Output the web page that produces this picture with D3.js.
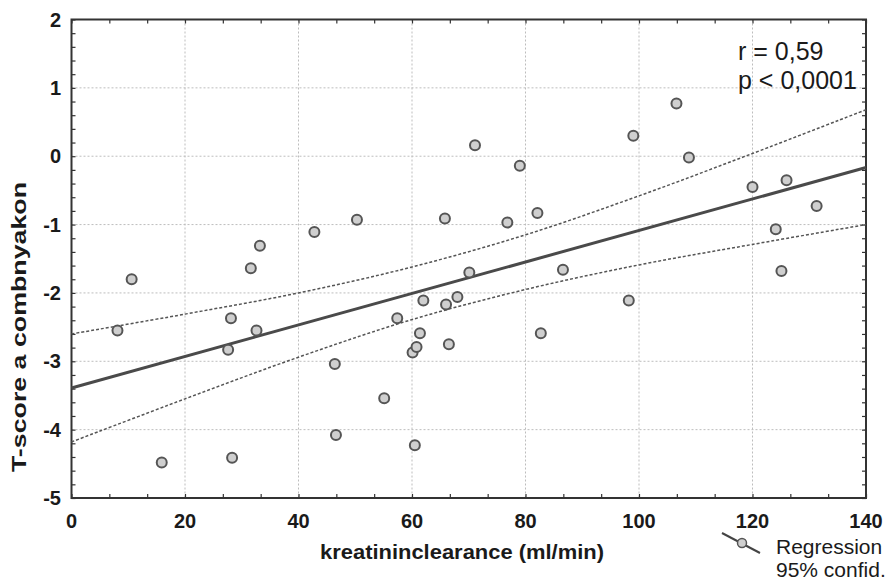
<html>
<head>
  <meta charset="UTF-8">
  <title>T-score vs kreatininclearance</title>
  <script src="https://d3js.org/d3.v7.min.js"></script>
  <style>
    body { margin: 0; background-color: white; }
    text { font-family: "Liberation Sans", Arial, sans-serif; fill: #1a1a1a; }
  </style>
</head>
<body>
  <svg></svg>
</body>
<script>
  const clearance = [8.1, 10.6, 15.9, 27.6, 28.1, 28.3, 31.6, 32.6, 33.2, 42.8,
    46.4, 46.6, 50.3, 55.1, 57.4, 60.1, 60.5, 60.8, 61.4, 62.0,
    65.8, 66.0, 66.5, 68.0, 70.1, 71.1, 76.8, 79.0, 82.1, 82.7,
    86.6, 98.2, 99.0, 106.6, 108.8, 120.0, 124.1, 125.1, 126.0, 131.3];
  const tscore = [-2.55, -1.80, -4.48, -2.83, -2.37, -4.41, -1.64, -2.55, -1.31, -1.11,
    -3.04, -4.08, -0.93, -3.54, -2.37, -2.87, -4.23, -2.79, -2.59, -2.11,
    -0.91, -2.17, -2.75, -2.06, -1.70, 0.16, -0.97, -0.14, -0.83, -2.59,
    -1.66, -2.11, 0.30, 0.77, -0.02, -0.45, -1.07, -1.68, -0.35, -0.73];

  // regression line ends and 95% band
  const fitX = [0, 140];
  const fitY = [-3.39, -0.165];
  const bandX = [0, 20, 40, 60, 80, 100, 120, 140];
  const bandUpper = [-2.60, -2.31, -2.00, -1.62, -1.15, -0.58, 0.04, 0.68];
  const bandLower = [-4.18, -3.55, -2.94, -2.39, -1.95, -1.59, -1.29, -1.00];

  const xTicks = [0, 20, 40, 60, 80, 100, 120, 140];
  const yTicks = [2, 1, 0, -1, -2, -3, -4, -5];
  const statLines = ["r = 0,59", "p < 0,0001"];
  const legendLines = ["Regression", "95% confid."];

  let width = 888, height = 581;
  let padL = 71.5, padR = 866, padT = 19.5, padB = 498;

  let svg = d3.select("svg")
    .attr("width", width)
    .attr("height", height)
    .attr("viewBox", "0 0 " + width + " " + height);

  let x = d3.scaleLinear().domain([0, 140]).range([padL, padR]);
  let y = d3.scaleLinear().domain([-5, 2]).range([padB, padT]);

  // grid
  let grid = svg.append("g").attr("stroke", "#bdbdbd").attr("stroke-width", 1)
    .attr("stroke-dasharray", "2,2");
  grid.selectAll(".gx").data(xTicks.slice(1, -1)).enter().append("line")
    .attr("x1", d => x(d)).attr("x2", d => x(d))
    .attr("y1", padT).attr("y2", padB);
  grid.selectAll(".gy").data(yTicks.slice(1, -1)).enter().append("line")
    .attr("x1", padL).attr("x2", padR)
    .attr("y1", d => y(d)).attr("y2", d => y(d));

  // axes with inward ticks on all four sides
  let minorX = d3.range(0, 140.01, 20 / 3);
  let minorY = d3.range(-5, 2.01, 0.2);
  let ax = svg.append("g").attr("stroke", "#333");
  ax.append("g").attr("transform", "translate(0," + padB + ")")
    .call(d3.axisTop(x).tickValues(minorX).tickSize(4).tickFormat(""));
  ax.append("g").attr("transform", "translate(0," + padT + ")")
    .call(d3.axisBottom(x).tickValues(minorX).tickSize(4).tickFormat(""));
  ax.append("g").attr("transform", "translate(" + padL + ",0)")
    .call(d3.axisRight(y).tickValues(minorY).tickSize(4).tickFormat(""));
  ax.append("g").attr("transform", "translate(" + padR + ",0)")
    .call(d3.axisLeft(y).tickValues(minorY).tickSize(4).tickFormat(""));
  ax.selectAll(".domain").remove();
  ax.selectAll("line").attr("stroke", "#333").attr("stroke-width", 1.2);

  svg.append("rect")
    .attr("x", padL).attr("y", padT)
    .attr("width", padR - padL).attr("height", padB - padT)
    .attr("fill", "none").attr("stroke", "#333").attr("stroke-width", 2);

  // tick labels
  svg.append("g").selectAll("text").data(xTicks).enter().append("text")
    .attr("x", d => x(d)).attr("y", 528)
    .attr("text-anchor", "middle")
    .style("font-size", "20px").style("font-weight", "bold")
    .text(d => d);
  svg.append("g").selectAll("text").data(yTicks).enter().append("text")
    .attr("x", 61).attr("y", d => y(d)).attr("dy", "0.36em")
    .attr("text-anchor", "end")
    .style("font-size", "20px").style("font-weight", "bold")
    .text(d => d);

  // axis titles
  svg.append("text")
    .attr("x", 462).attr("y", 559)
    .attr("text-anchor", "middle")
    .attr("textLength", 284).attr("lengthAdjust", "spacingAndGlyphs")
    .style("font-size", "20px").style("font-weight", "bold")
    .text("kreatininclearance (ml/min)");
  svg.append("text")
    .attr("transform", "translate(26,327) rotate(-90)")
    .attr("text-anchor", "middle")
    .attr("textLength", 290).attr("lengthAdjust", "spacingAndGlyphs")
    .style("font-size", "21px").style("font-weight", "bold")
    .text("T-score a combnyakon");

  // confidence band
  let band = d3.line().x(d => x(d[0])).y(d => y(d[1])).curve(d3.curveCatmullRom);
  [bandUpper, bandLower].forEach(b => {
    svg.append("path")
      .attr("d", band(bandX.map((v, i) => [v, b[i]])))
      .attr("fill", "none")
      .attr("stroke", "#555")
      .attr("stroke-width", 1.5)
      .attr("stroke-dasharray", "3,2");
  });

  // regression line
  svg.append("line")
    .attr("x1", x(fitX[0])).attr("y1", y(fitY[0]))
    .attr("x2", x(fitX[1])).attr("y2", y(fitY[1]))
    .attr("stroke", "#4a4a4a").attr("stroke-width", 3);

  // points
  svg.append("g").selectAll("circle").data(clearance).enter().append("circle")
    .attr("cx", d => x(d))
    .attr("cy", (d, i) => y(tscore[i]))
    .attr("r", 5)
    .attr("fill", "#cfcfcf")
    .attr("stroke", "#555")
    .attr("stroke-width", 2);

  // r and p
  svg.append("g").selectAll("text").data(statLines).enter().append("text")
    .attr("x", 738).attr("y", (d, i) => 60 + i * 29)
    .style("font-size", "25px")
    .text(d => d);

  // legend
  svg.append("line")
    .attr("x1", 722).attr("y1", 533).attr("x2", 760).attr("y2", 553)
    .attr("stroke", "#444").attr("stroke-width", 2);
  svg.append("circle")
    .attr("cx", 742).attr("cy", 543).attr("r", 4.5)
    .attr("fill", "#cfcfcf").attr("stroke", "#555").attr("stroke-width", 1.5);
  svg.append("g").selectAll("text").data(legendLines).enter().append("text")
    .attr("x", 776).attr("y", (d, i) => 554 + i * 23)
    .style("font-size", "21px")
    .text(d => d);
</script>
</html>
